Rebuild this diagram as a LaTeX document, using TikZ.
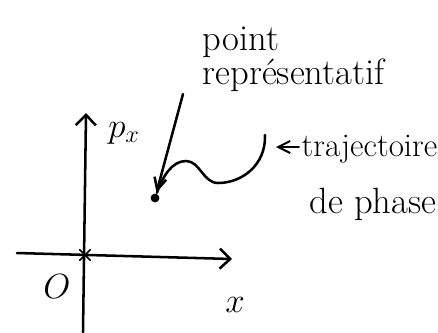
\documentclass[tikz,border=0pt]{standalone}
\usepackage{amsmath}
\usepackage{tikz}
\usetikzlibrary{arrows.meta,shapes.misc}

\begin{document}
\begin{tikzpicture}[x=0.025cm, y=-0.025cm, line width=1.8pt, line cap=round,
    >={Straight Barb[length=2.6mm, width=5mm]},
    hand/.style={font=\fontsize{26}{30}\selectfont, inner sep=1pt},
    pointer/.style={->, >={Straight Barb[length=3mm, width=3mm]}}]
  \path[use as bounding box, clip] (0,0) rectangle (438,332);

  % axes
  \coordinate (xleft) at (17,253);
  \coordinate (xtip) at (232,259);
  \coordinate (ybot) at (83,332);
  \coordinate (ytip) at (86,113);
  \node[cross out, draw, line width=1.2pt, minimum size=0.22cm, inner sep=0] (O) at (85,255) {};
  \draw[->] (xleft) -- (xtip);
  \draw[->] (ybot) -- (ytip);
  \node[hand] (olab) at (57,287) {$O$};
  \node[hand] (xlab) at (235,305) {$x$};
  \node[hand] (pxlab) at (124,133) {$p_x$};

  % representative point and phase trajectory
  \node[circle, fill, inner sep=0, minimum size=0.22cm] (pr) at (155,198) {};
  \draw (pr) .. controls (163,176) and (172,161) .. (186,161)
             .. controls (200,161) and (203,183) .. (218,183)
             .. controls (242,183) and (266,165) .. (265,135);

  % labels
  \node[hand, anchor=base west] (pt) at (200,50) {point};
  \node[hand, anchor=base west] (rep) at (200,84) {représentatif};
  \node[hand, anchor=base west, font=\fontsize{23.5}{28}\selectfont] (traj) at (299,156) {trajectoire};
  \node[hand, anchor=base west] (phase) at (307,213) {de phase};

  \coordinate (ptrstart) at (183,94);
  \coordinate (trajtip) at (276,147);
  \draw[pointer] (ptrstart) -- (pr);
  \draw[pointer, line width=1.4pt] (traj.west |- trajtip) -- (trajtip);
\end{tikzpicture}
\end{document}
